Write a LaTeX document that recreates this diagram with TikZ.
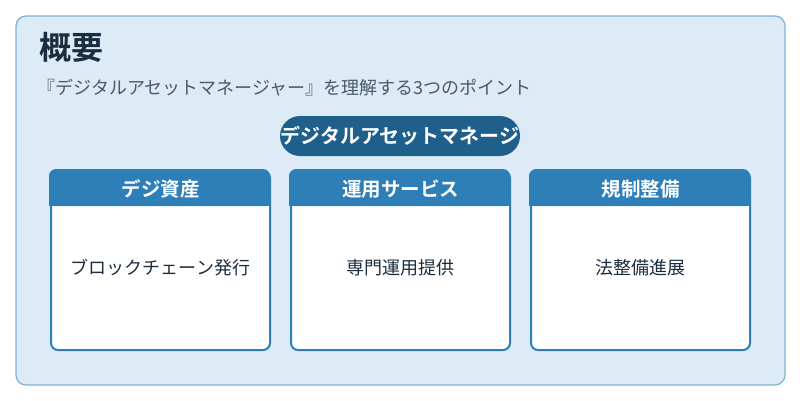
\documentclass[tikz,border=0pt]{standalone}
\usepackage{fontspec}
\setmainfont{Noto Sans CJK JP}
\newfontfamily\jpbold{Noto Sans CJK JP Bold}
\definecolor{bgc}{HTML}{DCEBF6}
\definecolor{bord}{HTML}{7FB2D6}
\definecolor{head}{HTML}{2E7FB8}
\definecolor{pill}{HTML}{1F5F8B}
\definecolor{titc}{HTML}{1A2E40}
\definecolor{subc}{HTML}{4A5A68}
\tikzset{cardbox/.style={draw=head,line width=2pt,fill=white,rounded corners=7pt,minimum width=219pt,minimum height=179pt},
headtxt/.style={text=white,font=\jpbold\fontsize{19.5}{22}\selectfont},
bodytxt/.style={text=titc,font=\fontsize{18}{20}\selectfont}}
\begin{document}
\begin{tikzpicture}[x=1pt,y=-1pt]
\useasboundingbox (0,0) rectangle (800,400);
\fill[white] (0,0) rectangle (800,400);
\draw[bord,fill=bgc,line width=1.2pt,rounded corners=10pt] (16,16) rectangle (785,385);
\node[anchor=west,text=titc,font=\jpbold\fontsize{32}{34}\selectfont] (t) at (36,47) {概要};
\node[anchor=west,text=subc,font=\fontsize{18}{20}\selectfont] (s) at (34,88) {『デジタルアセットマネージャー』を理解する3つのポイント};
\node[fill=pill,rounded corners=20pt,minimum width=240pt,minimum height=40pt,inner xsep=0pt,text=white,font=\jpbold\fontsize{20}{22}\selectfont] (p) at (400,136) {デジタルアセットマネージ};
\foreach \n/\x/\h/\b in {a/160.5/デジ資産/ブロックチェーン発行, b/400.5/運用サービス/専門運用提供, c/640.5/規制整備/法整備進展}{
  \node[cardbox] (\n) at (\x,260.5) {};
  \fill[head,rounded corners=7pt] (\n.north west) ++(-1,-1) rectangle ++(221,37);
  \fill[head] (\n.north west) ++(-1,20) rectangle ++(221,16);
  \node[headtxt] (\n h) at (\x,189) {\h};
  \node[bodytxt] (\n t) at (\x,268) {\b};
}
\end{tikzpicture}
\end{document}
